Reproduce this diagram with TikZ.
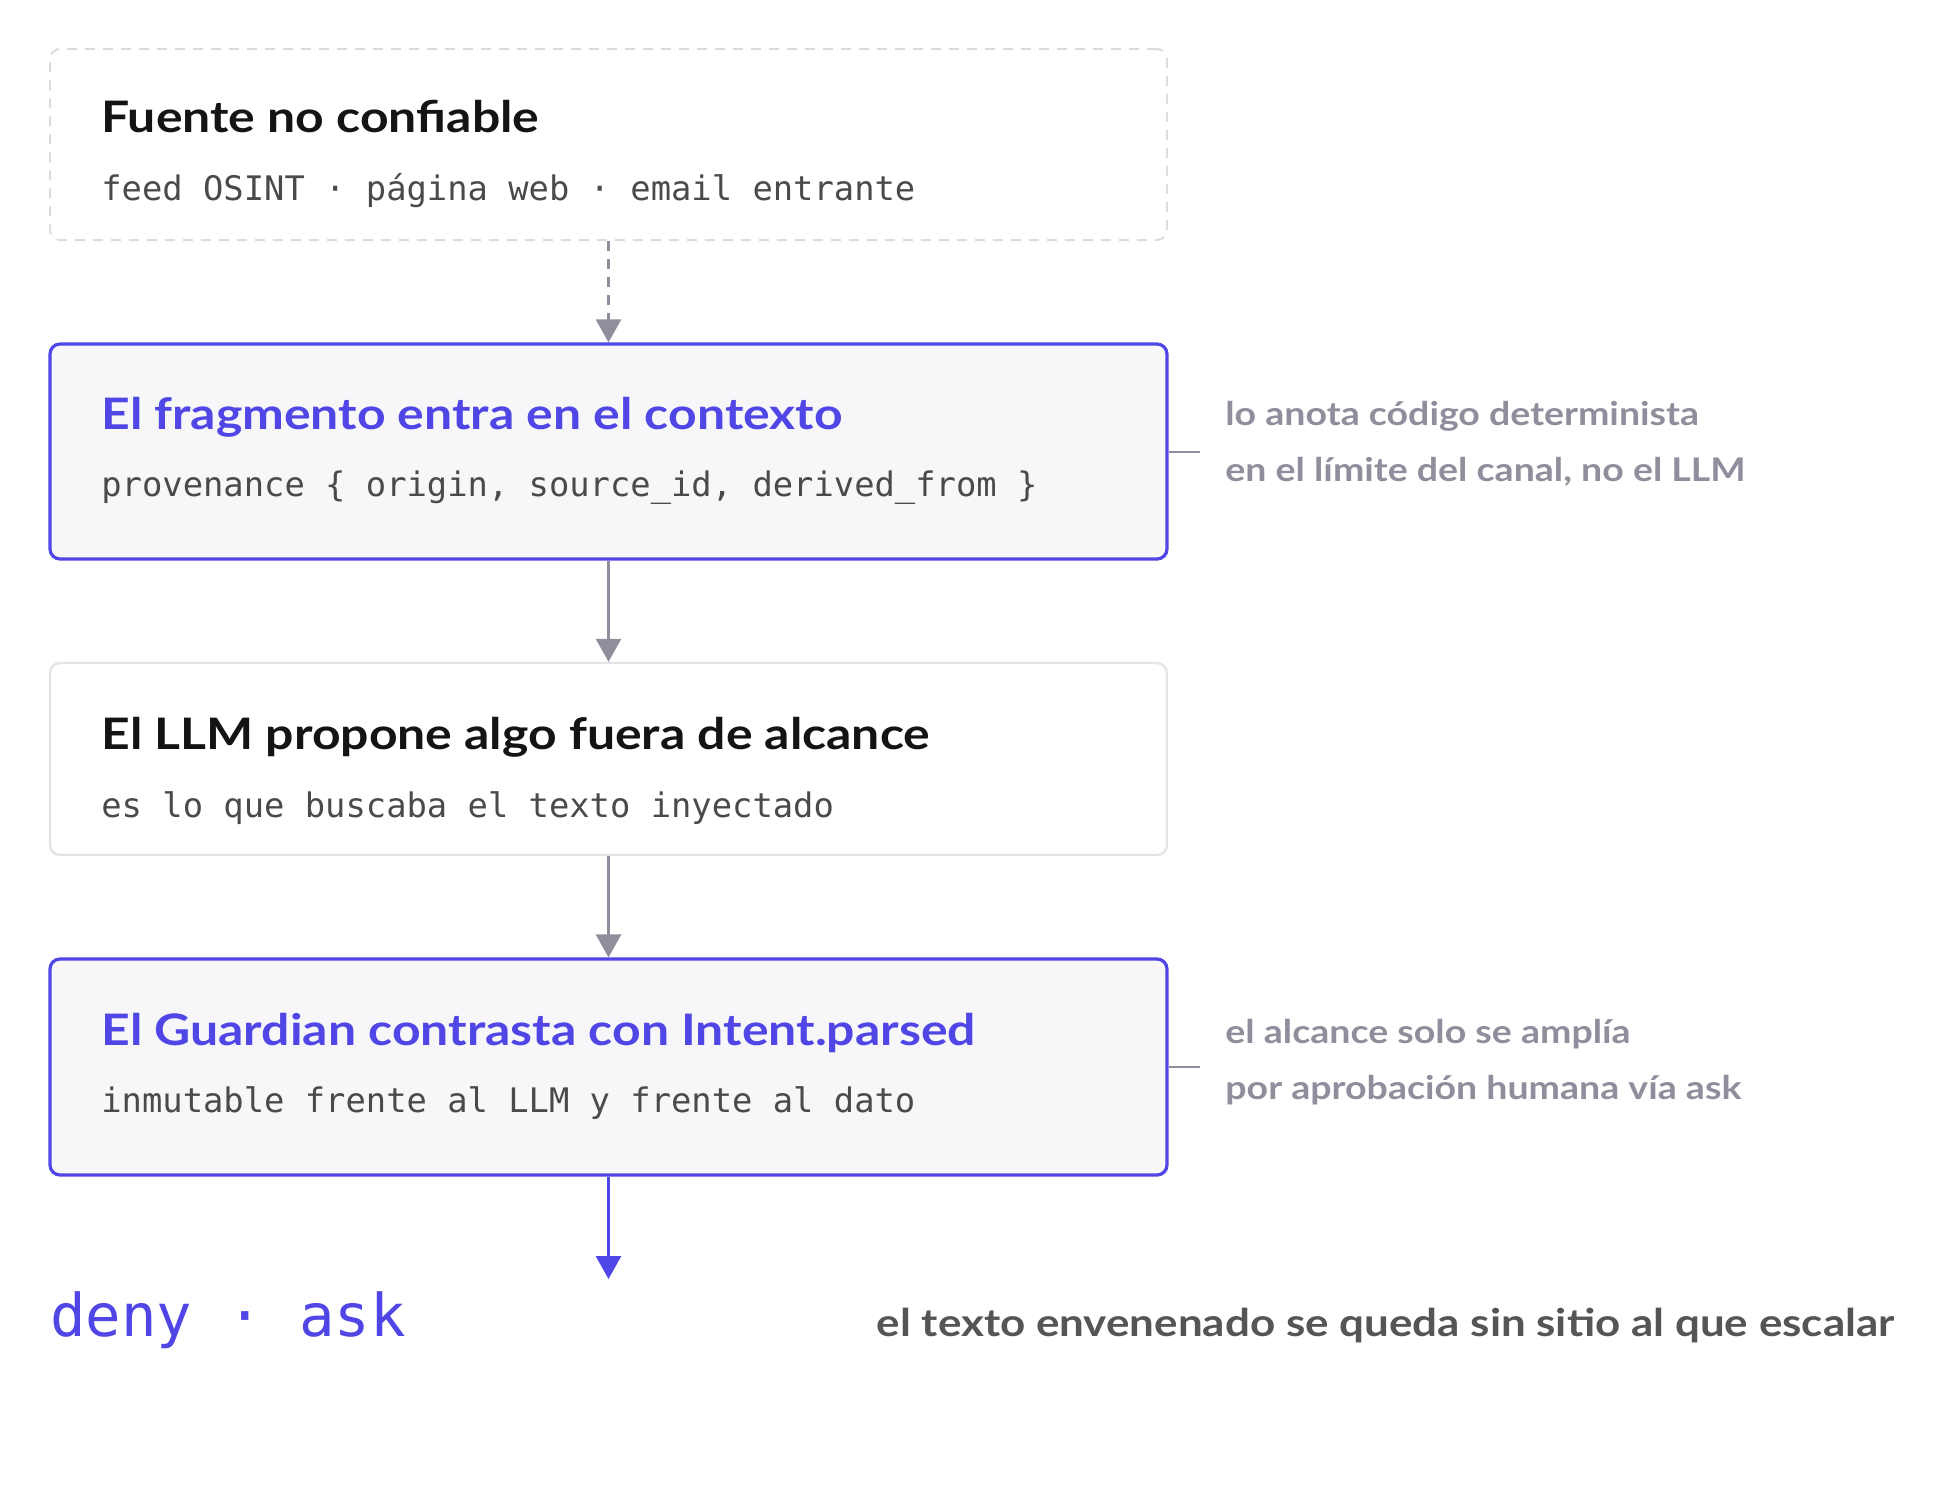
\documentclass[tikz,border=0pt]{standalone}
\usepackage{fontspec}
\setmainfont{Lato}[FakeStretch=1.15]
\setmonofont{DejaVu Sans Mono}
\usetikzlibrary{arrows.meta}
\definecolor{indigo}{HTML}{4F46E5}
\definecolor{flechagris}{HTML}{8E8E9C}
\definecolor{fondo}{HTML}{F7F7FA}
\definecolor{bordegris}{HTML}{E4E4E7}
\definecolor{bordepunteado}{HTML}{DCDCE0}
\definecolor{tinta}{HTML}{141414}
\definecolor{sub}{HTML}{4A4A4A}
\definecolor{pie}{HTML}{555555}
\tikzset{
  caja/.style={draw, rounded corners=5pt, minimum width=558.5pt, inner sep=0pt},
  titulo/.style={anchor=base west, inner sep=0pt, font=\fontsize{21.7}{25}\selectfont\bfseries},
  detalle/.style={anchor=base west, inner sep=0pt, font=\fontsize{16.9}{20}\selectfont\ttfamily, text=sub},
  nota/.style={anchor=base west, inner sep=0pt, text=flechagris, font=\fontsize{16.3}{20}\selectfont\bfseries},
  flecha/.style={draw=flechagris, line width=1.35pt, -{Triangle[width=12.5pt,length=11.5pt]}}
}
\begin{document}
\begin{tikzpicture}[x=0.5pt,y=0.5pt,yscale=-1]
	\useasboundingbox (0,0) rectangle (1944,1496);
	% cajas
	\node [caja, draw=bordepunteado, dash pattern=on 5pt off 4pt, line width=1pt, minimum height=95.5pt] (fuente) at (608.5,144.5) {};
	\node [caja, draw=indigo, fill=fondo, line width=1.6pt, minimum height=107.5pt] (fragmento) at (608.5,451.5) {};
	\node [caja, draw=bordegris, line width=1.2pt, minimum height=96pt] (llm) at (608.5,759) {};
	\node [caja, draw=indigo, fill=fondo, line width=1.6pt, minimum height=108pt] (guardian) at (608.5,1067) {};
	% textos
	\node [titulo, text=tinta] (t1) at (101,132) {Fuente no confiable};
	\node [detalle] (d1) at (101,200) {feed OSINT · página web · email entrante};
	\node [titulo, text=indigo] (t2) at (101,429) {El fragmento entra en el contexto};
	\node [detalle] (d2) at (101,496) {provenance \{ origin, source\_id, derived\_from \}};
	\node [titulo, text=tinta] (t3) at (101,749) {El LLM propone algo fuera de alcance};
	\node [detalle] (d3) at (101,817) {es lo que buscaba el texto inyectado};
	\node [titulo, text=indigo] (t4) at (101,1045) {El Guardian contrasta con Intent.parsed};
	\node [detalle] (d4) at (101,1112) {inmutable frente al LLM y frente al dato};
	% flechas
	\draw [flecha, dash pattern=on 5pt off 4pt] (fuente.south) -- (fragmento.north);
	\draw [flecha] (fragmento.south) -- (llm.north);
	\draw [flecha] (llm.south) -- (guardian.north);
	\coordinate (fin) at (608.5,1279);
	\draw [flecha, draw=indigo, fill=indigo] (guardian.south) -- (fin);
	% notas laterales
	\coordinate (n1) at (1200,451.5);
	\coordinate (n2) at (1200,1067);
	\draw [flechagris, line width=1pt] (fragmento.east) -- (n1);
	\draw [flechagris, line width=1pt] (guardian.east) -- (n2);
	\node [nota] (nota1a) at (1225,425) {lo anota código determinista};
	\node [nota] (nota1b) at (1225,481) {en el límite del canal, no el LLM};
	\node [nota] (nota2a) at (1225,1043) {el alcance solo se amplía};
	\node [nota] (nota2b) at (1225,1099) {por aprobación humana vía ask};
	% resultado
	\node [anchor=base west, inner sep=0pt, text=indigo, font=\fontsize{29.5}{34}\selectfont\ttfamily] (salida) at (50,1336) {deny · ask};
	\node [anchor=base east, inner sep=0pt, text=pie, font=\fontsize{19.1}{23}\selectfont\bfseries] (cierre) at (1895,1336) {el texto envenenado se queda sin sitio al que escalar};
\end{tikzpicture}
\end{document}
